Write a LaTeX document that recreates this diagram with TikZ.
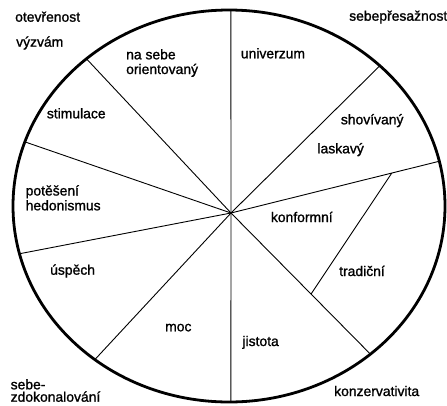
\documentclass[tikz,border=0pt]{standalone}
\usepackage{fontspec}
\newfontfamily\wheelfont[FakeBold=1.2]{Liberation Sans}
\usetikzlibrary{calc}

\begin{document}
\begin{tikzpicture}[x=1pt,y=-1pt,
 rim/.style={line width=2.8pt},
 spoke/.style={line width=0.9pt},
 every node/.style={font=\wheelfont\fontsize{13.9}{16}\selectfont,inner sep=0pt,anchor=base west}]
\useasboundingbox (0,0) rectangle (447,405);
\coordinate (mid) at (229,206);
\coordinate (hub) at (231,213);
\foreach \t [count=\i] in {270.5,314.3,346.8,49.1,89.5,128.4,165.9,199.1,228.7}
 \coordinate (rim\i) at ($(mid)+(\t:216 and 196)$);
\foreach \i in {1,...,9}
 \draw[spoke] (hub) -- (rim\i);
\draw[spoke] ($(hub)!0.772!(rim3)$) -- ($(hub)!0.574!(rim4)$);
\draw[rim] (mid) ellipse [x radius=216, y radius=196];
% left half
\node (otev) at (15,21.7) {otevřenost};
\node (vyzv) at (16,46.7) {výzvám};
\node (sebe1) at (126,59.3) {na sebe};
\node (sebe2) at (126,74) {orientovaný};
\node (stim) at (46.7,118.3) {stimulace};
\node (pot) at (25.5,195.5) {potěšení};
\node (hed) at (25.5,210.3) {hedonismus};
\node (usp) at (50,274.7) {úspěch};
\node (moc) at (165,331.3) {moc};
\node (zdok1) at (10.5,389.3) {sebe-};
\node (zdok2) at (10.5,401.7) {zdokonalování};
% right half
\node (pres) at (349,20.7) {sebepřesažnost};
\node (univ) at (240.7,58.3) {univerzum};
\node (shov) at (340.7,124.3) {shovívaný};
\node (lask) at (317.3,153.3) {laskavý};
\node (konf) at (270.7,222) {konformní};
\node (trad) at (339,276) {tradiční};
\node (jist) at (242.3,346) {jistota};
\node (konz) at (334,396) {konzervativita};
\end{tikzpicture}
\end{document}
